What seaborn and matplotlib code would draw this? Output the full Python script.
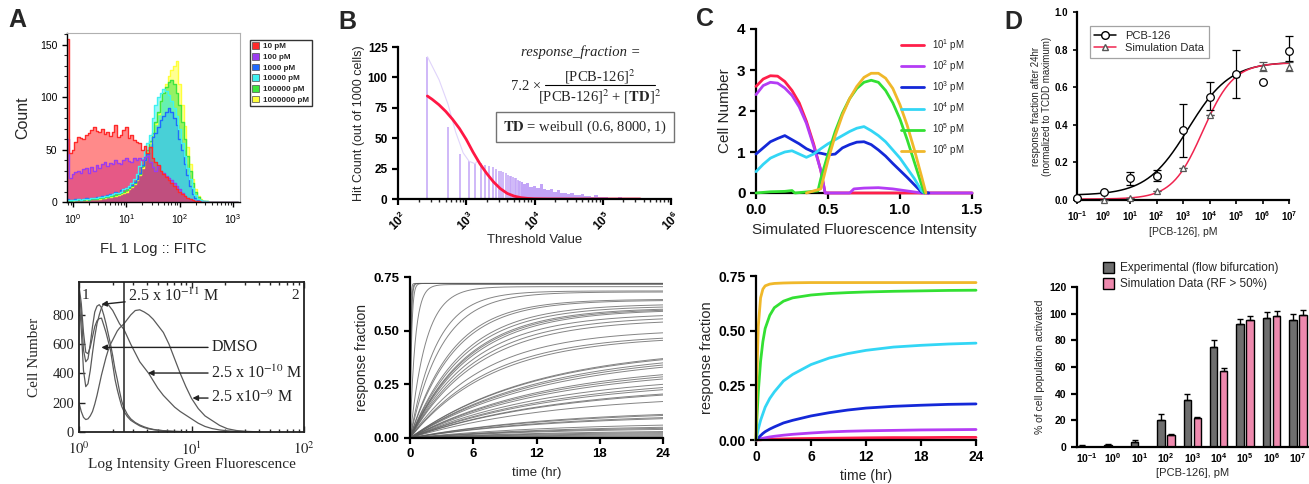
"""
plot.py
Multi-panel figure: flow cytometry histograms, threshold distribution,
simulated fluorescence / response kinetics and PCB-126 dose response.
"""

import numpy as np
import pandas as pd
import seaborn as sns
import matplotlib.pyplot as plt
from matplotlib.lines import Line2D
from matplotlib.patches import Patch
from matplotlib.ticker import MultipleLocator, LogLocator, NullFormatter

W, H = 1309, 484

# ---------------- panel A top: flow histograms (log10 FITC bins) ----------------
A_LOGX = np.round(np.arange(-0.10, 3.101, 0.05), 2)
A_LABELS = ["10 pM", "100 pM", "1000 pM", "10000 pM", "100000 pM", "1000000 pM"]
A_COLORS = ["#ff2a2a", "#9b3cf0", "#1f6bff", "#3ff2f2", "#3ee63e", "#ffff3a"]
A_10 = [155, 47, 50, 57, 62, 61, 60, 64, 66, 69,
        71, 68, 67, 70, 65, 67, 63, 67, 73, 62,
        64, 69, 71, 61, 64, 59, 57, 56, 50, 53,
        47, 52, 42, 38, 35, 30, 27, 24, 21, 18,
        15, 12, 10, 8, 6, 4, 3, 2, 1, 0.5,
        0, 0, 0, 0, 0, 0, 0] + [0] * 8
A_100 = [60, 23, 27, 29, 30, 28, 31, 32, 28, 33,
         30, 35, 32, 36, 38, 34, 37, 36, 40, 37,
         36, 40, 42, 39, 38, 42, 40, 42, 40, 43,
         44, 38, 33, 30, 34, 30, 28, 25, 23, 21,
         18, 15, 12, 9, 6, 4, 3, 2, 1, 0.5,
         0, 0, 0, 0, 0, 0, 0] + [0] * 8
A_1000 = [3, 2, 2, 3, 3, 2, 3, 4, 3, 4,
          4, 5, 5, 6, 6, 7, 8, 8, 10, 9,
          11, 12, 13, 14, 16, 19, 22, 28, 35, 40,
          46, 52, 62, 66, 71, 78, 82, 86, 90, 86,
          80, 73, 60, 50, 36, 26, 15, 8, 4, 2,
          1, 0.5, 0, 0, 0, 0, 0] + [0] * 8
A_10000 = [2, 2, 2, 2, 3, 2, 3, 3, 3, 4,
           4, 4, 5, 5, 6, 6, 7, 8, 9, 9,
           10, 12, 13, 15, 18, 22, 27, 34, 42, 50,
           56, 64, 80, 92, 100, 104, 108, 106, 102, 96,
           90, 82, 70, 56, 44, 32, 22, 13, 7, 3,
           2, 1, 0.5, 0, 0, 0, 0] + [0] * 8
A_100000 = [2, 1, 2, 2, 2, 2, 2, 3, 2, 3,
            3, 3, 4, 4, 5, 5, 6, 6, 7, 8,
            9, 10, 11, 13, 15, 18, 22, 27, 34, 42,
            50, 58, 66, 76, 86, 96, 104, 110, 114, 116,
            112, 104, 92, 76, 60, 44, 30, 18, 10, 5,
            2, 1, 0.5, 0, 0, 0, 0] + [0] * 8
A_1000000 = [2, 1, 1, 2, 2, 2, 2, 2, 3, 3,
             3, 3, 3, 4, 4, 5, 5, 6, 6, 7,
             8, 9, 10, 12, 14, 17, 21, 26, 32, 40,
             48, 56, 64, 74, 84, 96, 104, 112, 120, 126,
             130, 134, 112, 92, 72, 52, 36, 22, 12, 6,
             3, 1, 0.5, 0, 0, 0, 0] + [0] * 8
A_COUNTS = [A_10, A_100, A_1000, A_10000, A_100000, A_1000000]
# drawing order (bottom to top) of the six histograms
A_ORDER = [5, 4, 2, 3, 1, 0]

# ---------------- panel A bottom: published histograms ----------------
A2_LOGX = [0.00, 0.02, 0.04, 0.06, 0.08, 0.10, 0.12, 0.14, 0.16, 0.18,
           0.20, 0.22, 0.24, 0.26, 0.28, 0.30, 0.32, 0.34, 0.36, 0.38,
           0.40, 0.43, 0.46, 0.50, 0.54, 0.58, 0.62, 0.66, 0.70, 0.75,
           0.80, 0.85, 0.90, 0.95, 1.00, 1.06, 1.12, 1.18, 1.25, 1.32,
           1.40, 1.50, 1.60]
A2_DMSO = [1000, 880, 680, 545, 535, 580, 650, 720, 760, 775,
           778, 730, 680, 620, 560, 460, 360, 290, 230, 175,
           140, 105, 80, 60, 42, 30, 22, 16, 12, 9,
           6, 4, 3, 2, 1, 0, 0, 0, 0, 0, 0, 0, 0]
A2_11 = [960, 820, 560, 480, 500, 600, 720, 820, 860, 870,
         850, 800, 740, 670, 600, 520, 430, 360, 280, 210,
         165, 120, 90, 65, 48, 35, 25, 18, 13, 9,
         6, 4, 3, 2, 1, 0, 0, 0, 0, 0, 0, 0, 0]
A2_10 = [940, 700, 420, 310, 330, 420, 540, 650, 740, 800,
         850, 875, 880, 870, 850, 830, 800, 770, 740, 720,
         700, 650, 600, 540, 480, 440, 400, 350, 300, 250,
         210, 170, 140, 115, 90, 60, 38, 24, 14, 8, 4, 2, 1]
A2_9 = [200, 140, 100, 85, 90, 110, 140, 190, 250, 320,
        390, 450, 510, 560, 600, 630, 660, 690, 710, 725,
        740, 770, 800, 830, 835, 820, 800, 770, 730, 680,
        600, 500, 400, 310, 230, 160, 110, 80, 45, 22, 10, 4, 1]
A2_GATE = 2.5

# ---------------- panel B top: threshold distribution ----------------
B_BIN_WIDTH = 270
B_BAR_K = list(range(1, 25))
B_BAR_H = [117, 59, 37, 31, 29, 30, 28, 27, 26, 25, 23, 23,
           22, 21, 20, 19, 19, 18, 17, 17, 16, 15, 15, 14]
B_DENSE_LOGX = np.round(np.arange(3.80, 5.601, 0.05), 2)
B_DENSE_H = [14, 12, 13, 10, 11, 9, 12, 8, 7, 8,
             6, 7, 5, 5, 4, 5, 3.5, 3, 4, 2.5,
             2.5, 2, 3, 1.8, 1.5, 2, 1.2, 1.2, 1, 1.5,
             0.8, 0.8, 0.6, 0.5, 0.4, 0.3, 0]
B_OUTLINE_X = [270, 400, 540, 700, 900, 1100, 1350, 1500]
B_OUTLINE_H = [117, 98, 78, 55, 38, 31, 29, 32]
B_FIT_LOGX = [2.43, 2.5, 2.6, 2.7, 2.8, 2.9, 3.0, 3.1, 3.2, 3.3, 3.4,
              3.5, 3.6, 3.7, 3.8, 3.9, 4.0, 4.2, 4.6, 5.0, 5.55]
B_FIT_H = [84.7, 82, 77.5, 72, 65.5, 58, 49, 38.5, 29, 21, 14,
           8.5, 4.6, 2.4, 1.1, 0.5, 0.2, 0.05, 0, 0, 0]

# ---------------- panel B bottom: per-cell response kinetics ----------------
# value reached at 24 h and rise time constant (h) of each gray trace
B_PLATEAU = [0.72, 0.72, 0.72, 0.72, 0.715, 0.705, 0.685, 0.68, 0.645, 0.64,
             0.62, 0.61, 0.60, 0.595, 0.59, 0.57, 0.555, 0.54, 0.49, 0.465,
             0.455, 0.37, 0.365, 0.35, 0.34, 0.33, 0.295, 0.285, 0.275, 0.25,
             0.235, 0.225, 0.205, 0.20, 0.17, 0.11, 0.105, 0.095, 0.09, 0.06,
             0.05, 0.045, 0.04, 0.03, 0.025, 0.02, 0.015, 0.01, 0.005, 0.003]
B_TAU = [0.05, 0.08, 0.1, 0.15, 0.5, 1.5, 2.5, 3.0, 4.0, 4.2,
         5.0, 5.2, 5.5, 5.6, 5.8, 6.0, 6.3, 6.5, 7.0, 7.5,
         7.8, 12, 12, 12.5, 12.5, 13, 13, 13, 13.5, 13.5,
         14, 14, 14, 14, 14, 14, 14, 14, 14, 14,
         14, 14, 14, 14, 14, 14, 14, 14, 14, 14]

# ---------------- panel C top: simulated fluorescence distributions ----------------
C_LABELS = [r"$\mathrm{10^{1}}$ pM", r"$\mathrm{10^{2}}$ pM", r"$\mathrm{10^{3}}$ pM",
            r"$\mathrm{10^{4}}$ pM", r"$\mathrm{10^{5}}$ pM", r"$\mathrm{10^{6}}$ pM"]
C_COLORS = ["#ff1f4a", "#b43cf5", "#1428d8", "#33d6f5", "#33e033", "#f0b82a"]
C1_X = [0.0, 0.05, 0.1, 0.15, 0.2, 0.25, 0.3, 0.35, 0.4, 0.45, 0.48, 1.5]
C1_Y = [2.6, 2.78, 2.86, 2.85, 2.72, 2.5, 2.2, 1.75, 1.2, 0.55, 0.0, 0.0]
C2_X = [0.0, 0.05, 0.1, 0.15, 0.2, 0.25, 0.3, 0.35, 0.4, 0.45, 0.48, 0.65,
        0.68, 0.75, 0.85, 0.95, 1.05, 1.15, 1.5]
C2_Y = [2.4, 2.62, 2.70, 2.68, 2.56, 2.38, 2.1, 1.7, 1.15, 0.55, 0.0, 0.0,
        0.1, 0.12, 0.13, 0.1, 0.05, 0.0, 0.0]
C3_X = [0.0, 0.05, 0.1, 0.15, 0.2, 0.25, 0.3, 0.35, 0.4, 0.45, 0.5, 0.55,
        0.6, 0.65, 0.7, 0.75, 0.8, 0.85, 0.9, 0.95, 1.0, 1.05, 1.1, 1.15, 1.2]
C3_Y = [0.95, 1.1, 1.25, 1.33, 1.4, 1.3, 1.2, 1.08, 1.0, 0.97, 0.93, 0.95,
        1.1, 1.18, 1.24, 1.25, 1.18, 1.05, 0.9, 0.72, 0.55, 0.38, 0.2, 0.02, 0.0]
C4_X = [0.0, 0.05, 0.1, 0.15, 0.2, 0.25, 0.3, 0.35, 0.4, 0.45, 0.5, 0.55,
        0.6, 0.65, 0.7, 0.75, 0.8, 0.85, 0.9, 0.95, 1.0, 1.05, 1.1, 1.15, 1.17]
C4_Y = [0.52, 0.7, 0.85, 0.93, 1.0, 1.03, 0.95, 0.87, 0.95, 1.08, 1.2, 1.3,
        1.4, 1.5, 1.58, 1.62, 1.52, 1.4, 1.25, 1.05, 0.85, 0.6, 0.35, 0.05, 0.0]
C5_X = [0.0, 0.1, 0.2, 0.25, 0.27, 0.43, 0.45, 0.5, 0.55, 0.6, 0.65, 0.7,
        0.75, 0.8, 0.85, 0.9, 0.95, 1.0, 1.05, 1.1, 1.15, 1.17]
C5_Y = [0.0, 0.03, 0.04, 0.06, 0.0, 0.05, 0.35, 0.95, 1.5, 1.95, 2.3, 2.55,
        2.7, 2.75, 2.7, 2.5, 2.2, 1.8, 1.3, 0.75, 0.2, 0.0]
C6_X = [0.35, 0.45, 0.5, 0.55, 0.6, 0.65, 0.7, 0.75, 0.8, 0.85, 0.9, 0.95,
        1.0, 1.05, 1.1, 1.15, 1.18]
C6_Y = [0.0, 0.1, 0.8, 1.4, 1.9, 2.3, 2.6, 2.82, 2.92, 2.92, 2.8, 2.55,
        2.15, 1.65, 1.05, 0.4, 0.0]
C_X = [C1_X, C2_X, C3_X, C4_X, C5_X, C6_X]
C_Y = [C1_Y, C2_Y, C3_Y, C4_Y, C5_Y, C6_Y]

# ---------------- panel C bottom: mean response over time ----------------
C_TIME = [0, 0.1, 0.25, 0.5, 0.75, 1, 1.5, 2, 3, 4, 6, 8, 10, 12, 15, 18, 21, 24]
CT_1 = [0, 0, 0.001, 0.001, 0.002, 0.002, 0.003, 0.004, 0.005, 0.006, 0.007,
        0.008, 0.009, 0.010, 0.011, 0.011, 0.012, 0.012]
CT_2 = [0, 0.001, 0.003, 0.006, 0.008, 0.010, 0.014, 0.017, 0.022, 0.026, 0.032,
        0.037, 0.040, 0.042, 0.044, 0.046, 0.047, 0.048]
CT_3 = [0, 0.004, 0.010, 0.020, 0.030, 0.038, 0.050, 0.060, 0.078, 0.090, 0.110,
        0.125, 0.137, 0.146, 0.154, 0.159, 0.163, 0.165]
CT_4 = [0, 0.02, 0.05, 0.09, 0.12, 0.15, 0.19, 0.22, 0.27, 0.30, 0.345,
        0.375, 0.395, 0.41, 0.425, 0.433, 0.439, 0.443]
CT_5 = [0, 0.10, 0.22, 0.36, 0.45, 0.51, 0.57, 0.605, 0.635, 0.65, 0.663,
        0.670, 0.674, 0.677, 0.680, 0.682, 0.684, 0.685]
CT_6 = [0, 0.30, 0.52, 0.65, 0.69, 0.705, 0.713, 0.716, 0.718, 0.719, 0.72,
        0.72, 0.72, 0.72, 0.72, 0.72, 0.72, 0.72]
CT_ALL = [CT_1, CT_2, CT_3, CT_4, CT_5, CT_6]

# ---------------- panel D: dose response ----------------
D_CONC = [1e-1, 1e0, 1e1, 1e2, 1e3, 1e4, 1e5, 1e6, 1e7]
D_TICKS = [r"$\mathbf{10^{-1}}$", r"$\mathbf{10^{0}}$", r"$\mathbf{10^{1}}$",
           r"$\mathbf{10^{2}}$", r"$\mathbf{10^{3}}$", r"$\mathbf{10^{4}}$",
           r"$\mathbf{10^{5}}$", r"$\mathbf{10^{6}}$", r"$\mathbf{10^{7}}$"]
D_PCB = [0.01, 0.044, 0.115, 0.13, 0.37, 0.55, 0.67, 0.63, 0.79]
D_PCB_LO = [0, 0, 0.035, 0.03, 0.14, 0.07, 0.13, 0, 0.05]
D_PCB_HI = [0, 0, 0.035, 0.03, 0.14, 0.08, 0.13, 0, 0.08]
D_SIM = [0.01, 0.0, 0.012, 0.05, 0.17, 0.45, 0.67, 0.71, 0.71]
D_SIM_ERR = [0, 0, 0, 0, 0, 0, 0, 0.025, 0.025]
# four-parameter logistic fits: bottom, top, log EC50, Hill slope
D_FIT_PCB = (0.025, 0.735, 3.2, 0.55)
D_FIT_SIM = (0.005, 0.73, 3.75, 0.75)

D_EXP_PCT = [0.8, 1.2, 3.5, 20, 35, 75, 92, 97, 95]
D_EXP_ERR = [0.7, 0.8, 1.5, 4.4, 4.4, 5.5, 4, 4, 5]
D_SIM_PCT = [0, 0, 0, 9, 22, 57, 95, 98, 99]
D_SIM_PCT_ERR = [0, 0, 0, 0.5, 0.7, 2.3, 3, 4, 4]
D_GROUPS = ["Experimental (flow bifurcation)", "Simulation Data (RF > 50%)"]


def rect(x0, y0, x1, y1):
    """Axes rectangle from pixel box (top-left origin)."""
    return [x0 / W, 1 - y1 / H, (x1 - x0) / W, (y1 - y0) / H]


def fpos(x, y):
    return x / W, 1 - y / H


def prism(ax, size):
    """GraphPad-like axes: bold black left/bottom spines only."""
    sns.despine(ax=ax)
    for side in ("left", "bottom"):
        ax.spines[side].set_linewidth(1.6)
        ax.spines[side].set_color("black")
    ax.tick_params(direction="out", width=1.6, length=4, labelsize=size, colors="black")
    ax.tick_params(which="minor", width=1.0, length=2.5)


def hill(logc, bottom, top, log_ec50, slope):
    return bottom + (top - bottom) / (1 + 10 ** ((log_ec50 - logc) * slope))


def draw_a_top(ax):
    x = 10 ** A_LOGX
    for i in A_ORDER:
        ax.fill_between(x, A_COUNTS[i], step="mid", color=A_COLORS[i], alpha=0.55, lw=0)
        ax.step(x, A_COUNTS[i], where="mid", color=A_COLORS[i], lw=1.0)
    ax.set_xscale("log")
    ax.set_xlim(10 ** -0.113, 10 ** 3.13)
    ax.set_ylim(0, 161)
    ax.set_xticks([1, 10, 100, 1000],
                  labels=[r"$\mathrm{10^{0}}$", r"$\mathrm{10^{1}}$",
                          r"$\mathrm{10^{2}}$", r"$\mathrm{10^{3}}$"])
    ax.xaxis.set_minor_locator(LogLocator(subs=np.arange(2, 10)))
    ax.xaxis.set_minor_formatter(NullFormatter())
    ax.set_yticks([0, 50, 100, 150])
    ax.yaxis.set_minor_locator(MultipleLocator(10))
    for side in ("top", "right"):
        ax.spines[side].set_color("#b0b0b0")
        ax.spines[side].set_linewidth(0.8)
    for side in ("left", "bottom"):
        ax.spines[side].set_color("black")
        ax.spines[side].set_linewidth(1.0)
    ax.tick_params(direction="out", length=3.5, width=1, labelsize=7.5, colors="black")
    ax.tick_params(which="minor", length=2, width=0.8)
    ax.set_ylabel("Count", fontsize=11.5, labelpad=7)
    ax.set_xlabel("FL 1 Log :: FITC", fontsize=10.5, labelpad=12)
    handles = [Patch(facecolor=c, edgecolor="0.3", lw=0.5) for c in A_COLORS]
    leg = ax.legend(handles, A_LABELS, loc="upper left", bbox_to_anchor=(1.055, 0.96),
                    prop={"weight": "bold", "size": 5.8}, frameon=True, fancybox=False,
                    edgecolor="black", handlelength=0.9, handleheight=0.9,
                    labelspacing=0.32, borderpad=0.3, handletextpad=0.5, borderaxespad=0)
    leg.get_frame().set_linewidth(1.0)


def draw_a_bottom(ax):
    serif = dict(fontfamily="Liberation Serif", math_fontfamily="stix")
    x = 10 ** np.array(A2_LOGX)
    for values in (A2_DMSO, A2_11, A2_10, A2_9):
        ax.plot(x, values, color="#5a5a5a", lw=0.9)
    ax.axvline(A2_GATE, color="#333333", lw=1.2)
    ax.set_xscale("log")
    ax.set_xlim(1, 100)
    ax.set_ylim(0, 1025)
    ax.set_xticks([1, 10, 100], labels=[r"$10^{0}$", r"$10^{1}$", r"$10^{2}$"], **serif)
    ax.xaxis.set_minor_locator(LogLocator(subs=np.arange(2, 10)))
    ax.xaxis.set_minor_formatter(NullFormatter())
    ax.set_yticks([0, 200, 400, 600, 800], labels=["0", "200", "400", "600", "800"], **serif)
    for side in ax.spines.values():
        side.set_color("#222222")
        side.set_linewidth(1.3)
    ax.tick_params(direction="in", length=4, width=1, labelsize=10.5, colors="#222222",
                   top=True)
    ax.tick_params(axis="x", pad=6)
    ax.tick_params(which="minor", direction="in", length=2.5, top=True)
    ax.set_ylabel("Cell Number", fontsize=11, labelpad=8, **serif)
    ax.set_xlabel("Log Intensity Green Fluorescence", fontsize=11, labelpad=0, **serif)
    ax.text(1.06, 930, "1", fontsize=11, va="center", **serif)
    ax.text(78, 930, "2", fontsize=11, va="center", **serif)
    arrow = dict(arrowstyle="-|>", color="#222222", lw=1.0, mutation_scale=8,
                 shrinkA=0, shrinkB=0)
    notes = [(r"2.5 x 10$^{-11}$ M", (1.58, 872), (2.75, 925)),
             ("DMSO", (1.58, 578), (15.0, 578)),
             (r"2.5 x 10$^{-10}$ M", (4.1, 403), (15.0, 403)),
             (r"2.5 x10$^{-9}$ M", (10.2, 232), (15.0, 232))]
    for text, tip, start in notes:
        ax.annotate(text, xy=tip, xytext=start, fontsize=11.5, va="center", ha="left",
                    arrowprops=arrow, color="#222222", **serif)


def draw_b_top(ax, fig):
    lav = "#c2a4f7"
    bar_x = [B_BIN_WIDTH * k for k in B_BAR_K]
    ax.vlines(bar_x, 0, B_BAR_H, color=lav, lw=1.1)
    ax.fill_between(10 ** B_DENSE_LOGX, B_DENSE_H, step="mid", color=lav, lw=0)
    ax.plot(B_OUTLINE_X, B_OUTLINE_H, color="#e0d4fb", lw=0.8)
    ax.plot(10 ** np.array(B_FIT_LOGX), B_FIT_H, color="#ff1744", lw=2.0)
    ax.set_xscale("log")
    ax.set_xlim(1e2, 1e6)
    ax.set_ylim(0, 125)
    ax.set_yticks([0, 25, 50, 75, 100, 125], labels=["0", "25", "50", "75", "100", "125"],
                  fontweight="bold")
    ax.set_xticks([1e2, 1e3, 1e4, 1e5, 1e6],
                  labels=[r"$\mathbf{10^{%d}}$" % p for p in range(2, 7)], rotation=45)
    ax.xaxis.set_minor_locator(LogLocator(subs=np.arange(2, 10)))
    ax.xaxis.set_minor_formatter(NullFormatter())
    prism(ax, 8.5)
    ax.set_ylabel("Hit Count (out of 1000 cells)", fontsize=9, labelpad=2)
    ax.set_xlabel("Threshold Value", fontsize=9.5, labelpad=0)

    serif = dict(fontfamily="Liberation Serif", math_fontfamily="stix")
    fig.text(*fpos(581, 56), "response_fraction =", fontsize=10.5, style="italic",
             ha="center", va="baseline", **serif)
    fig.text(*fpos(526, 89.5), "7.2 \u00d7", fontsize=10.5, ha="center", va="baseline", **serif)
    fig.text(*fpos(600, 81), r"[PCB-126]$^{2}$", fontsize=10.5, ha="center",
             va="baseline", **serif)
    fig.add_artist(Line2D([545 / W, 655 / W], [1 - 85 / H, 1 - 85 / H], color="black",
                          lw=0.8, transform=fig.transFigure))
    fig.text(*fpos(600, 102), r"[PCB-126]$^{2}$ + [$\mathbf{TD}$]$^{2}$", fontsize=10.5,
             ha="center", va="baseline", **serif)
    fig.text(*fpos(585, 130.5), r"$\mathbf{TD}$ = weibull (0.6, 8000, 1)", fontsize=10.5,
             ha="center", va="baseline",
             bbox=dict(boxstyle="square,pad=0.45", fc="white", ec="0.45", lw=1.0), **serif)


def draw_b_bottom(ax):
    t = np.linspace(0, 24, 400)
    for plateau, tau in zip(B_PLATEAU, B_TAU):
        y = plateau * (1 - np.exp(-t / tau)) / (1 - np.exp(-24 / tau))
        ax.plot(t, y, color="#5c5c5c", lw=0.7, alpha=0.75)
    ax.set_xlim(0, 24)
    ax.set_ylim(0, 0.75)
    ax.set_xticks([0, 6, 12, 18, 24], labels=["0", "6", "12", "18", "24"], fontweight="bold")
    ax.set_yticks([0, 0.25, 0.5, 0.75], labels=["0.00", "0.25", "0.50", "0.75"],
                  fontweight="bold")
    prism(ax, 9.5)
    ax.set_ylabel("response fraction", fontsize=10, labelpad=3)
    ax.set_xlabel("time (hr)", fontsize=9.5, labelpad=5)


def draw_c_top(ax):
    for xs, ys, color, label in zip(C_X, C_Y, C_COLORS, C_LABELS):
        sns.lineplot(x=xs, y=ys, color=color, lw=2.0, label=label, ax=ax,
                     estimator=None, sort=False, clip_on=False, zorder=3)
    ax.set_xlim(0, 1.5)
    ax.set_ylim(0, 4)
    ax.set_xticks([0, 0.5, 1.0, 1.5], labels=["0.0", "0.5", "1.0", "1.5"], fontweight="bold")
    ax.set_yticks([0, 1, 2, 3, 4], labels=["0", "1", "2", "3", "4"], fontweight="bold")
    prism(ax, 11)
    ax.set_ylabel("Cell Number", fontsize=11, labelpad=4)
    ax.set_xlabel("Simulated Fluorescence Intensity", fontsize=11, labelpad=4)
    ax.legend(loc="upper right", bbox_to_anchor=(1.0, 1.0), frameon=False, fontsize=7,
              handlelength=2.4, labelspacing=0.55, borderaxespad=0.4)


def draw_c_bottom(ax):
    for ys, color in zip(CT_ALL, C_COLORS):
        sns.lineplot(x=C_TIME, y=ys, color=color, lw=2.0, ax=ax, estimator=None,
                     sort=False, clip_on=False)
    ax.set_xlim(0, 24)
    ax.set_ylim(0, 0.75)
    ax.set_xticks([0, 6, 12, 18, 24], labels=["0", "6", "12", "18", "24"], fontweight="bold")
    ax.set_yticks([0, 0.25, 0.5, 0.75], labels=["0.00", "0.25", "0.50", "0.75"],
                  fontweight="bold")
    prism(ax, 10)
    ax.set_ylabel("response fraction", fontsize=10.5, labelpad=3)
    ax.set_xlabel("time (hr)", fontsize=10, labelpad=3)


def draw_d_top(ax):
    logc = np.linspace(-1, 7, 300)
    sns.lineplot(x=10 ** logc, y=hill(logc, *D_FIT_PCB), color="black", lw=1.1, ax=ax)
    sns.lineplot(x=10 ** logc, y=hill(logc, *D_FIT_SIM), color="#f0244f", lw=1.1, ax=ax)
    ax.errorbar(D_CONC, D_PCB, yerr=[D_PCB_LO, D_PCB_HI], fmt="o", ms=5.5, mfc="white",
                mec="black", mew=0.9, ecolor="black", elinewidth=0.9, capsize=3,
                clip_on=False, zorder=4)
    ax.errorbar(D_CONC, D_SIM, yerr=D_SIM_ERR, fmt="^", ms=4.5, mfc="white", mec="#555555",
                mew=0.9, ecolor="#555555", elinewidth=0.9, capsize=3, clip_on=False,
                zorder=3)
    ax.set_xscale("log")
    ax.set_xlim(1e-1, 1e7)
    ax.set_ylim(0, 1.0)
    ax.set_xticks(D_CONC, labels=D_TICKS)
    ax.xaxis.set_minor_locator(LogLocator(subs=np.arange(2, 10)))
    ax.xaxis.set_minor_formatter(NullFormatter())
    ax.set_yticks([0, 0.2, 0.4, 0.6, 0.8, 1.0],
                  labels=["0.0", "0.2", "0.4", "0.6", "0.8", "1.0"], fontweight="bold")
    prism(ax, 7)
    ax.tick_params(width=1.2, length=3)
    ax.set_ylabel("response fraction after 24hr\n(normalized to TCDD maximum)",
                  fontsize=7, linespacing=1.1, labelpad=2)
    ax.set_xlabel("[PCB-126], pM", fontsize=7.5, labelpad=3)
    handles = [Line2D([], [], color="black", lw=1.1, marker="o", ms=5.5, mfc="white",
                      mec="black"),
               Line2D([], [], color="#f0244f", lw=1.1, marker="^", ms=4.5, mfc="white",
                      mec="#555555")]
    leg = ax.legend(handles, ["PCB-126", "Simulation Data"], loc="upper left",
                    bbox_to_anchor=(0.06, 0.925), fontsize=8, frameon=True, fancybox=False,
                    edgecolor="0.55", handlelength=2.0, borderpad=0.4, labelspacing=0.25,
                    borderaxespad=0)
    leg.get_frame().set_linewidth(0.9)


def draw_d_bottom(ax):
    df = pd.DataFrame({
        "conc": D_TICKS * 2,
        "pct": D_EXP_PCT + D_SIM_PCT,
        "group": [D_GROUPS[0]] * len(D_TICKS) + [D_GROUPS[1]] * len(D_TICKS),
    })
    palette = {D_GROUPS[0]: "#6e6e6e", D_GROUPS[1]: "#ff78aa"}
    sns.barplot(data=df, x="conc", y="pct", hue="group", order=D_TICKS,
                hue_order=D_GROUPS, palette=palette, width=0.76, gap=0.26,
                edgecolor="black", linewidth=1.0, errorbar=None, ax=ax)
    pos = np.arange(len(D_TICKS))
    zeros = [0] * len(D_TICKS)
    ax.errorbar(pos - 0.19, D_EXP_PCT, yerr=[zeros, D_EXP_ERR], fmt="none", ecolor="black",
                elinewidth=1.0, capsize=2)
    ax.errorbar(pos + 0.19, D_SIM_PCT, yerr=[zeros, D_SIM_PCT_ERR], fmt="none",
                ecolor="black", elinewidth=1.0, capsize=2)
    ax.set_xlim(-0.37, 8.42)
    ax.set_ylim(0, 120)
    ax.set_yticks([0, 20, 40, 60, 80, 100, 120],
                  labels=["0", "20", "40", "60", "80", "100", "120"], fontweight="bold")
    ax.set_xticks(pos, labels=D_TICKS)
    prism(ax, 7.5)
    ax.tick_params(axis="x", length=0, pad=3)
    ax.set_ylabel("% of cell population activated", fontsize=7.5, labelpad=3)
    ax.set_xlabel("[PCB-126], pM", fontsize=8, labelpad=2)
    handles, labels = ax.get_legend_handles_labels()
    ax.legend(handles, labels, loc="lower left", bbox_to_anchor=(0.09, 0.95),
              frameon=False, fontsize=8.5, handlelength=1.0, handleheight=1.0,
              labelspacing=0.3, handletextpad=0.5, borderaxespad=0)


def main():
    sns.set_theme(style="ticks")
    plt.rcParams["font.family"] = ["Liberation Sans", "DejaVu Sans"]
    plt.rcParams["mathtext.fontset"] = "custom"
    plt.rcParams["mathtext.rm"] = "Liberation Sans"
    plt.rcParams["mathtext.it"] = "Liberation Sans:italic"
    plt.rcParams["mathtext.bf"] = "Liberation Sans:bold"

    fig = plt.figure(figsize=(W / 100, H / 100), dpi=100)
    draw_a_top(fig.add_axes(rect(67, 33, 240, 202)))
    draw_a_bottom(fig.add_axes(rect(79, 282, 304, 432)))
    draw_b_top(fig.add_axes(rect(398, 47, 671, 199)), fig)
    draw_b_bottom(fig.add_axes(rect(410, 277, 663, 438)))
    draw_c_top(fig.add_axes(rect(756, 29, 972, 193)))
    draw_c_bottom(fig.add_axes(rect(756, 276, 976, 440)))
    draw_d_top(fig.add_axes(rect(1077, 12, 1289, 200)))
    draw_d_bottom(fig.add_axes(rect(1077, 287, 1309, 447)))

    for letter, (x, y) in zip("ABCD", [(17, 20), (347, 22), (705, 19), (1013, 22)]):
        fig.text(*fpos(x, y), letter, fontsize=18, fontweight="bold", ha="center",
                 va="center")

    fig.savefig("out.png", dpi=100)
    plt.close(fig)


if __name__ == "__main__":
    main()
